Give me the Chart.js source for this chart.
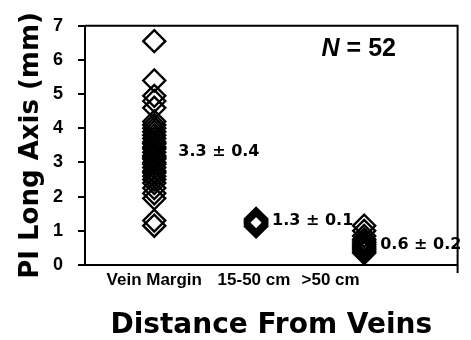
<!DOCTYPE html>
<html><head><meta charset="utf-8">
<script src="https://cdn.jsdelivr.net/npm/chart.js@4/dist/chart.umd.min.js"></script>
<style>html,body{margin:0;padding:0;background:#fff}#wrap{width:471px;height:340px}</style>
</head><body><div id="wrap"><canvas id="c" width="471" height="340"></canvas></div>
<script>
// ---- data ----
const categories = ['Vein Margin', '15-50 cm', '>50 cm'];
const categoryX = [1, 1.97, 3];          // where each group's points sit on the x scale
const labelX = [1, 1.95, 2.68];          // where each category label sits
const veinMargin = [6.55, 5.4, 4.95, 4.8, 4.6, 4.2, 4.1, 4.0, 3.9, 3.8, 3.7, 3.6, 3.55, 3.45, 3.4, 3.3,
                    3.2, 3.15, 3.1, 3.0, 2.95, 2.85, 2.75, 2.7, 2.6, 2.5, 2.25, 2.1, 1.95, 1.3, 1.15, 2.4];
const mid = [1.13, 1.17, 1.2, 1.23, 1.26, 1.29, 1.32, 1.35];
const far = [1.15, 1.0, 0.85, 0.75, 0.7, 0.65, 0.6, 0.55, 0.5, 0.45, 0.4, 0.35];
const means = [3.3, 1.3, 0.6];
const sds = [0.4, 0.1, 0.2];
const yTicks = [0, 1, 2, 3, 4, 5, 6, 7];
const sampleSize = 52;

const groups = [veinMargin, mid, far];

const annot = {
  id: 'annot',
  afterDatasetsDraw(chart) {
    const {ctx, chartArea: a, scales: {x, y}} = chart;
    ctx.save();
    ctx.strokeStyle = '#000'; ctx.lineWidth = 2;
    ctx.beginPath();
    ctx.moveTo(a.left, a.top); ctx.lineTo(a.right, a.top); ctx.lineTo(a.right, a.bottom + 8);
    ctx.stroke();
    ctx.fillStyle = '#000';
    ctx.font = 'bold 16px "DejaVu Sans"';
    ctx.textBaseline = 'middle'; ctx.textAlign = 'left';
    const offs = [24, 16, 16];
    means.forEach((m, i) => {
      ctx.fillText(m.toFixed(1) + ' \u00B1 ' + sds[i].toFixed(1),
        x.getPixelForValue(categoryX[i]) + offs[i], y.getPixelForValue(m));
    });
    const nx = a.left + (a.right - a.left) * 0.635;
    const ny = y.getPixelForValue(6.33);
    ctx.font = 'italic bold 25px "Liberation Sans"';
    ctx.fillText('N', nx, ny);
    const w = ctx.measureText('N').width;
    ctx.font = 'bold 25px "Liberation Sans"';
    ctx.fillText(' = ' + sampleSize, nx + w, ny);
    ctx.restore();
  }
};

new Chart(document.getElementById('c'), {
  type: 'scatter',
  data: {
    datasets: groups.map((g, i) => ({
      label: categories[i],
      data: g.map(v => ({x: categoryX[i], y: v})),
      pointStyle: 'rectRot',
      pointRadius: 11,
      pointBorderWidth: 2.4,
      borderColor: '#000',
      pointBorderColor: '#000',
      backgroundColor: 'rgba(0,0,0,0)',
      pointBackgroundColor: 'rgba(0,0,0,0)'
    }))
  },
  options: {
    responsive: false,
    devicePixelRatio: 1,
    animation: false,
    layout: {padding: {top: 23, right: 10, left: 0, bottom: 0}},
    plugins: {legend: {display: false}, tooltip: {enabled: false}},
    scales: {
      x: {
        type: 'linear', min: 0.34, max: 3.89,
        afterBuildTicks: s => { s.ticks = labelX.map(v => ({value: v})); },
        ticks: {
          callback: (v, i) => categories[i],
          font: {family: 'Liberation Sans', weight: 'bold', size: 17},
          color: '#000', padding: -3, autoSkip: false, maxRotation: 0
        },
        grid: {display: false},
        border: {display: true, color: '#000', width: 2},
        title: {display: true, text: 'Distance From Veins', color: '#000',
          font: {family: 'DejaVu Sans', weight: 'bold', size: 28, lineHeight: 1},
          padding: {top: 0, bottom: 0}},
        afterFit: s => { s.height = 75; }
      },
      y: {
        min: 0, max: 7,
        afterBuildTicks: s => { s.ticks = yTicks.map(v => ({value: v})); },
        ticks: {font: {family: 'Liberation Sans', weight: 'bold', size: 18}, color: '#000', padding: 15},
        grid: {drawOnChartArea: false, drawTicks: true, tickLength: 7, color: '#000', lineWidth: 2},
        border: {display: true, color: '#000', width: 2},
        title: {display: true, text: 'PI Long Axis (mm)', color: '#000',
          font: {family: 'DejaVu Sans', weight: 'bold', size: 26, lineHeight: 1},
          padding: {top: 18, bottom: 0}},
        afterFit: s => { s.width = 85; }
      }
    }
  },
  plugins: [annot]
});
</script>
</body></html>
